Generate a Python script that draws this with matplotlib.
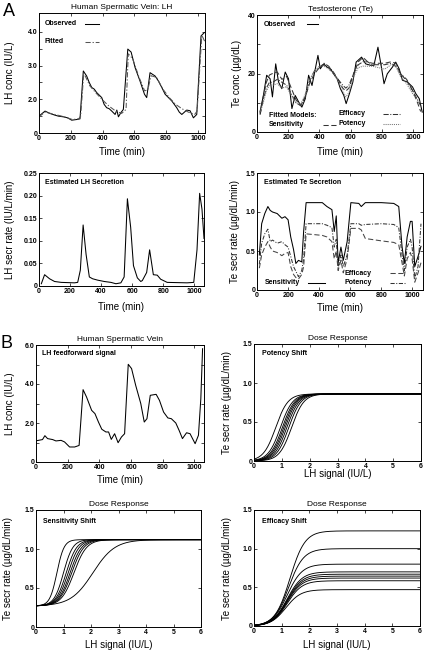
import numpy as np
import matplotlib
matplotlib.use("Agg")
import matplotlib.pyplot as plt

plt.rcParams['font.family'] = ['Liberation Sans', 'DejaVu Sans']
plt.rcParams['axes.linewidth'] = 0.7

# ---------------- data ----------------
# Panel A1: LH in spermatic vein
lh_obs_t = [0, 20, 38, 69, 100, 122, 153, 180, 206, 237, 258, 279, 300, 316, 332, 348, 363, 380,
            395, 410, 426, 442, 458, 479, 490, 500, 515, 531, 559, 580, 605, 636, 664, 678, 699,
            731, 752, 773, 794, 815, 836, 867, 883, 899, 930, 951, 972, 993, 1020, 1041]
lh_obs = [1.50, 1.58, 1.65, 1.58, 1.53, 1.50, 1.48, 1.45, 1.38, 1.40, 1.42, 2.84, 2.69, 2.50,
          2.35, 2.30, 2.20, 2.12, 2.05, 1.85, 1.75, 1.72, 1.65, 1.55, 1.68, 1.48, 1.60, 1.70,
          3.49, 3.40, 2.94, 2.54, 2.15, 2.05, 2.79, 2.69, 2.54, 2.35, 2.15, 2.05, 1.95, 1.75,
          1.62, 1.55, 1.68, 1.66, 1.45, 1.55, 3.88, 3.98]
lh_fit_t = [0, 38, 100, 160, 210, 250, 262, 282, 320, 360, 400, 440, 480, 520, 548, 562, 590,
            630, 665, 685, 705, 740, 780, 820, 860, 900, 940, 980, 995, 1025, 1045]
lh_fit = [1.48, 1.62, 1.55, 1.48, 1.40, 1.42, 1.50, 2.78, 2.40, 2.18, 1.98, 1.80, 1.66, 1.58,
          1.70, 3.35, 3.20, 2.65, 2.25, 2.28, 2.70, 2.65, 2.30, 2.05, 1.85, 1.72, 1.62, 1.55,
          1.65, 3.90, 3.70]

# Panel A2: Testosterone
te_t = [19, 41, 62, 84, 99, 120, 138, 159, 181, 202, 224, 245, 267, 288, 310, 331, 353, 374,
        391, 406, 428, 449, 471, 492, 514, 535, 557, 572, 593, 615, 636, 671, 697, 729, 750,
        776, 800, 815, 836, 869, 890, 912, 933, 965, 998, 1019, 1041, 1060]
te_obs = [6.8, 12.5, 19.4, 18.2, 12.0, 23.3, 17.1, 14.8, 20.5, 18.2, 8.0, 12.5, 10.3, 8.5,
          11.4, 19.4, 15.9, 21.6, 26.2, 21.6, 23.3, 22.2, 21.6, 19.9, 18.2, 14.8, 12.5, 9.7,
          13.1, 17.1, 23.9, 25.6, 23.3, 22.8, 22.8, 29.0, 21.6, 16.5, 19.9, 22.2, 23.9, 21.6,
          17.7, 17.1, 15.4, 13.1, 11.4, 6.8]
te_fit_t = [20, 40, 60, 80, 100, 130, 160, 190, 220, 250, 280, 310, 340, 370, 400, 430, 460,
            490, 520, 550, 570, 590, 620, 650, 680, 710, 740, 780, 820, 860, 890, 920, 960,
            1000, 1030, 1050]
te_fit_sens = [6, 12, 17, 19.5, 20, 20.5, 18, 19, 15, 11, 9, 12, 17, 20, 22, 23, 22, 20, 18,
               15, 14, 15, 20, 24, 25.5, 24, 23.5, 23.5, 23.5, 24, 23.5, 20, 17.5, 14, 10, 7]
te_fit_eff = [6, 11, 15, 17, 17, 18, 17, 16, 13, 10, 9, 12, 18, 21, 22, 23.5, 22.5, 20.5, 18,
              16, 15, 16, 20, 23, 24, 24, 23, 23, 23, 23.5, 22.5, 20, 18, 14, 11, 9]
te_fit_pot = [7, 10, 14, 16, 16, 16.5, 15, 15.5, 12.5, 10, 9.5, 13, 18, 21, 22.5, 22.5, 21.5,
              20, 17.5, 14, 12, 13.5, 19, 22, 22.5, 22.5, 22.5, 22, 21.5, 23, 22.5, 19, 16.5,
              13, 11, 10]

# Panel A3: estimated LH secretion
lh_sec_t = [15, 36, 68, 100, 143, 228, 249, 266, 284, 303, 324, 345, 377, 420, 463, 495, 527,
            548, 569, 590, 608, 633, 655, 665, 693, 712, 736, 761, 783, 825, 953, 996, 1017,
            1034, 1049, 1062]
lh_sec = [0.005, 0.025, 0.016, 0.010, 0.008, 0.007, 0.008, 0.035, 0.135, 0.07, 0.02, 0.016,
          0.013, 0.010, 0.008, 0.005, 0.007, 0.02, 0.193, 0.13, 0.045, 0.018, 0.010, 0.012,
          0.03, 0.08, 0.025, 0.024, 0.015, 0.008, 0.007, 0.008, 0.08, 0.205, 0.17, 0.105]

# Panel A4: estimated Te secretion
te_sec_t = [15, 30, 50, 70, 85, 100, 130, 160, 180, 200, 217, 235, 250, 267, 288, 300, 316,
            420, 450, 482, 497, 510, 522, 540, 555, 580, 604, 655, 671, 697, 800, 880, 912,
            933, 948, 966, 987, 998, 1015, 1036, 1055]
te_sec_sens = [0.45, 0.85, 0.98, 1.07, 1.02, 1.00, 0.98, 0.92, 0.94, 0.90, 0.68, 0.52, 0.34,
               0.38, 0.36, 0.75, 1.12, 1.12, 1.07, 1.03, 0.75, 0.95, 0.35, 0.55, 0.38, 0.62,
               1.12, 1.11, 1.07, 1.12, 1.12, 1.11, 1.07, 0.56, 0.34, 0.68, 0.88, 0.88, 0.30,
               0.43, 0.56]
te_sec_pot = [0.33, 0.60, 0.72, 0.78, 0.62, 0.64, 0.60, 0.62, 0.58, 0.55, 0.43, 0.30, 0.24,
              0.17, 0.25, 0.40, 0.85, 0.85, 0.83, 0.80, 0.55, 0.65, 0.28, 0.45, 0.30, 0.45,
              0.85, 0.85, 0.83, 0.84, 0.85, 0.84, 0.80, 0.45, 0.25, 0.55, 0.65, 0.55, 0.15,
              0.30, 0.85]
te_sec_eff = [0.28, 0.45, 0.55, 0.62, 0.55, 0.50, 0.48, 0.44, 0.47, 0.48, 0.30, 0.20, 0.16,
              0.14, 0.20, 0.30, 0.72, 0.70, 0.68, 0.62, 0.40, 0.50, 0.25, 0.38, 0.22, 0.40,
              0.79, 0.79, 0.77, 0.66, 0.63, 0.61, 0.58, 0.35, 0.18, 0.40, 0.48, 0.40, 0.10,
              0.22, 0.35]

# Panel B1: LH feedforward signal
lhff_t = [9, 41, 56, 73, 105, 126, 158, 180, 212, 244, 272, 297, 319, 351, 372, 394, 415,
          441, 458, 475, 496, 518, 539, 559, 582, 603, 629, 661, 683, 700, 721, 758, 779,
          805, 832, 854, 882, 903, 924, 950, 972, 1004, 1025, 1040, 1051]
lhff = [1.10, 1.15, 1.35, 1.20, 1.15, 1.08, 1.11, 1.03, 0.77, 0.77, 0.85, 3.71, 3.33, 2.65,
        2.48, 2.05, 1.68, 1.54, 1.54, 1.16, 1.45, 0.99, 1.28, 1.45, 5.01, 4.79, 3.93, 3.00,
        2.05, 2.22, 3.42, 3.47, 3.16, 2.56, 2.26, 2.22, 2.00, 1.62, 1.20, 1.50, 1.45, 0.94,
        1.37, 3.25, 5.81]

# Panels B2-B4: dose-response model parameters (logistic in LH signal)
pot_mid = [0.78, 0.95, 1.02, 1.07, 1.12, 1.18, 1.25, 1.35]
pot_width = [0.22, 0.22, 0.22, 0.22, 0.22, 0.22, 0.22, 0.22]
pot_max = 0.86
pot_base = 0.0

sens_mid = [0.76, 1.00, 1.10, 1.17, 1.24, 1.30, 1.38, 2.07]
sens_width = [0.13, 0.17, 0.19, 0.20, 0.21, 0.22, 0.23, 0.40]
sens_max = 1.12
sens_base = 0.27

eff_max = [1.23, 1.00, 0.80, 0.70, 0.67, 0.645, 0.62, 0.585, 0.47]
eff_mid = [1.30, 1.25, 1.20, 1.20, 1.20, 1.20, 1.20, 1.20, 1.15]
eff_width = 0.27

# ---------------- figure ----------------
W, H = 424, 653
fig = plt.figure(figsize=(W / 100, H / 100), dpi=100)


def axes_px(l, r, t, b):
    return fig.add_axes([l / W, 1 - b / H, (r - l) / W, (b - t) / H])


TICK_FS = 5
LAB_FS = 7
TIT_FS = 6
IN_FS = 5


def style(ax, xlim, ylim, xticks, xtl, yticks, ytl, xlabel, ylabel, xlc, ylc):
    ax.set_xlim(*xlim)
    ax.set_ylim(*ylim)
    ax.set_xticks(xticks)
    ax.set_xticklabels(xtl, fontsize=TICK_FS, fontweight='bold')
    ax.set_yticks(yticks)
    ax.set_yticklabels(ytl, fontsize=TICK_FS, fontweight='bold')
    ax.tick_params(direction='in', length=2, width=0.5, pad=1.2, top=True, right=True)
    ax.set_xlabel(xlabel, fontsize=LAB_FS, va='center')
    ax.set_ylabel(ylabel, fontsize=LAB_FS, va='center')
    ax.xaxis.set_label_coords(0.5, xlc)
    ax.yaxis.set_label_coords(ylc, 0.5)


def inset_line(ax, x0, x1, y, **kw):
    ax.plot([x0, x1], [y, y], transform=ax.transAxes, clip_on=False, **kw)


time_ticks = [0, 200, 400, 600, 800, 1000]
time_tl = ['0', '200', '400', '600', '800', '1000']
lw = 0.75

# A1
ax = axes_px(39, 205, 13, 133)
ax.plot(lh_obs_t, lh_obs, color='black', lw=lw)
ax.plot(lh_fit_t, lh_fit, color='#555555', lw=lw, dashes=(5, 1.8, 1.2, 1.8))
style(ax, (0, 1045), (1.0, 4.56), time_ticks, time_tl,
      [1.0, 1.5, 2.0, 2.5, 3.0, 3.5, 4.0], ['0', '', '2.0', '', '3.0', '', '4.0'],
      'Time (min)', 'LH conc (IU/L)', -0.16, -0.175)
ax.set_title('Human Spermatic Vein: LH', fontsize=TIT_FS, pad=3)
ax.text(0.036, 0.91, 'Observed', transform=ax.transAxes, fontsize=IN_FS, fontweight='bold', va='center')
inset_line(ax, 0.28, 0.36, 0.91, color='black', lw=lw)
ax.text(0.036, 0.76, 'Fitted', transform=ax.transAxes, fontsize=IN_FS, fontweight='bold', va='center')
inset_line(ax, 0.28, 0.36, 0.76, color='#555555', lw=lw, dashes=(5, 1.8, 1.2, 1.8))

# A2
ax = axes_px(257, 423, 15, 132)
ax.plot(te_t, te_obs, color='black', lw=lw)
ax.plot(te_fit_t, te_fit_sens, color='#333333', lw=lw, dashes=(5, 2.5))
ax.plot(te_fit_t, te_fit_eff, color='#333333', lw=lw, dashes=(5, 1.5, 1, 1.5))
ax.plot(te_fit_t, te_fit_pot, color='#777777', lw=lw, dashes=(1, 1))
style(ax, (0, 1065), (0, 40), time_ticks, time_tl,
      [0, 10, 20, 30, 40], ['0', '', '20', '', '40'],
      'Time (min)', 'Te conc (µg/dL)', -0.17, -0.12)
ax.set_title('Testosterone (Te)', fontsize=TIT_FS, pad=3)
ax.text(0.04, 0.92, 'Observed', transform=ax.transAxes, fontsize=IN_FS, fontweight='bold', va='center')
inset_line(ax, 0.30, 0.37, 0.92, color='black', lw=lw)
ax.text(0.07, 0.145, 'Fitted Models:', transform=ax.transAxes, fontsize=IN_FS, fontweight='bold', va='center')
ax.text(0.07, 0.06, 'Sensitivity', transform=ax.transAxes, fontsize=IN_FS, fontweight='bold', va='center')
inset_line(ax, 0.40, 0.49, 0.06, color='#333333', lw=lw, dashes=(5, 2.5))
ax.text(0.49, 0.155, 'Efficacy', transform=ax.transAxes, fontsize=IN_FS, fontweight='bold', va='center')
inset_line(ax, 0.76, 0.86, 0.155, color='#333333', lw=lw, dashes=(5, 1.5, 1, 1.5))
ax.text(0.49, 0.07, 'Potency', transform=ax.transAxes, fontsize=IN_FS, fontweight='bold', va='center')
inset_line(ax, 0.76, 0.86, 0.07, color='#777777', lw=lw, dashes=(1, 1))

# A3
ax = axes_px(39, 204, 173, 286)
ax.plot(lh_sec_t, lh_sec, color='black', lw=lw)
style(ax, (0, 1062), (0, 0.25), time_ticks, time_tl,
      [0, 0.05, 0.10, 0.15, 0.20, 0.25], ['0', '0.05', '0.10', '0.15', '0.20', '0.25'],
      'Time (min)', 'LH secr rate (IU/L/min)', -0.19, -0.176)
ax.text(0.036, 0.92, 'Estimated LH Secretion', transform=ax.transAxes, fontsize=IN_FS, fontweight='bold', va='center')

# A4
ax = axes_px(257, 423, 173, 290)
ax.plot(te_sec_t, te_sec_sens, color='black', lw=lw)
ax.plot(te_sec_t, te_sec_pot, color='#333333', lw=lw, dashes=(4, 1.5, 1, 1.5))
ax.plot(te_sec_t, te_sec_eff, color='#444444', lw=lw, dashes=(5, 2.5))
style(ax, (0, 1068), (0, 1.5), time_ticks, time_tl,
      [0, 0.5, 1.0, 1.5], ['0', '0.5', '1.0', '1.5'],
      'Time (min)', 'Te secr rate (µg/dL/min)', -0.15, -0.13)
ax.text(0.04, 0.915, 'Estimated Te Secretion', transform=ax.transAxes, fontsize=IN_FS, fontweight='bold', va='center')
ax.text(0.05, 0.06, 'Sensitivity', transform=ax.transAxes, fontsize=IN_FS, fontweight='bold', va='center')
inset_line(ax, 0.31, 0.41, 0.06, color='black', lw=lw)
ax.text(0.53, 0.145, 'Efficacy', transform=ax.transAxes, fontsize=IN_FS, fontweight='bold', va='center')
inset_line(ax, 0.80, 0.89, 0.145, color='#444444', lw=lw, dashes=(5, 2.5))
ax.text(0.53, 0.06, 'Potency', transform=ax.transAxes, fontsize=IN_FS, fontweight='bold', va='center')
inset_line(ax, 0.80, 0.89, 0.06, color='#333333', lw=lw, dashes=(4, 1.5, 1, 1.5))

# B1
ax = axes_px(36, 204, 345, 462)
ax.plot(lhff_t, lhff, color='black', lw=lw)
style(ax, (0, 1060), (0, 6), time_ticks, time_tl,
      [0, 1, 2, 3, 4, 5, 6], ['0', '', '2.0', '', '4.0', '', '6.0'],
      'Time (min)', 'LH conc (IU/L)', -0.155, -0.155)
ax.set_title('Human Spermatic Vein', fontsize=TIT_FS, pad=3)
ax.text(0.036, 0.93, 'LH feedforward signal', transform=ax.transAxes, fontsize=IN_FS, fontweight='bold', va='center')

x = np.linspace(0, 6, 400)
dose_ticks = [0, 1, 2, 3, 4, 5, 6]
dose_tl = ['0', '1', '2', '3', '4', '5', '6']
te_ticks = [0, 0.5, 1.0, 1.5]
te_tl = ['0', '0.5', '1.0', '1.5']

# B2 potency
ax = axes_px(254, 421, 344, 461)
for c, s in zip(pot_mid, pot_width):
    ax.plot(x, pot_base + (pot_max - pot_base) / (1 + np.exp(-(x - c) / s)), color='black', lw=0.65)
style(ax, (0, 6), (0, 1.5), dose_ticks, dose_tl, te_ticks, te_tl,
      'LH signal (IU/L)', 'Te secr rate (µg/dL/min)', -0.11, -0.16)
ax.set_title('Dose Response', fontsize=TIT_FS, pad=3)
ax.text(0.05, 0.92, 'Potency Shift', transform=ax.transAxes, fontsize=IN_FS, fontweight='bold', va='center')

# B3 sensitivity
ax = axes_px(36, 201, 510, 627)
for c, s in zip(sens_mid, sens_width):
    ax.plot(x, sens_base + (sens_max - sens_base) / (1 + np.exp(-(x - c) / s)), color='black', lw=0.65)
style(ax, (0, 6), (0, 1.5), dose_ticks, dose_tl, te_ticks, te_tl,
      'LH signal (IU/L)', 'Te secr rate (µg/dL/min)', -0.155, -0.17)
ax.set_title('Dose Response', fontsize=TIT_FS, pad=3)
ax.text(0.045, 0.90, 'Sensitivity Shift', transform=ax.transAxes, fontsize=IN_FS, fontweight='bold', va='center')

# B4 efficacy
ax = axes_px(254, 420, 510, 626)
for m, c in zip(eff_max, eff_mid):
    ax.plot(x, m / (1 + np.exp(-(x - c) / eff_width)), color='black', lw=0.65)
style(ax, (0, 6), (0, 1.5), dose_ticks, dose_tl, te_ticks, te_tl,
      'LH signal (IU/L)', 'Te secr rate (µg/dL/min)', -0.16, -0.16)
ax.set_title('Dose Response', fontsize=TIT_FS, pad=3)
ax.text(0.05, 0.90, 'Efficacy Shift', transform=ax.transAxes, fontsize=IN_FS, fontweight='bold', va='center')

# panel letters
fig.text(3 / W, 1 - 12 / H, 'A', fontsize=13, va='center', ha='left')
fig.text(1 / W, 1 - 343 / H, 'B', fontsize=13, va='center', ha='left')

fig.savefig('out.png', dpi=100)
